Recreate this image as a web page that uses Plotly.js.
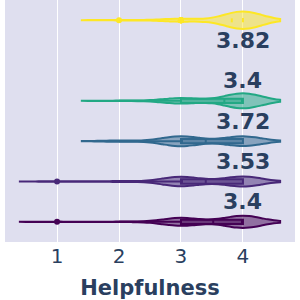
<!DOCTYPE html>
<html><head><meta charset="utf-8">
<script src="https://cdn.plot.ly/plotly-3.0.1.min.js"></script>
<style>html,body{margin:0;padding:0;background:#fff}#chart{width:300px;height:300px}</style>
</head><body><div id="chart"></div>
<script>
// y categories, bottom to top (Group 5 has no data)
const categories = ['Group 1', 'Group 2', 'Group 3', 'Group 4', 'Group 5', 'Group 6'];
// rating levels on the Helpfulness scale
const ratings = [1, 2, 3, 4];
// number of responses per rating level, per group
const countsGroup1 = [1, 1, 19, 29];
const countsGroup2 = [1, 2, 23, 24];
const countsGroup3 = [0, 3, 24, 23];
const countsGroup4 = [0, 1, 13, 36];
const countsGroup6 = [0, 1, 7, 42];
// mean labels shown on the chart
const meanLabels = ['3.4', '3.53', '3.72', '3.4', '3.82'];
const meanLabelX = 4;
const xTicks = [1, 2, 3, 4];

const seriesCats = ['Group 1', 'Group 2', 'Group 3', 'Group 4', 'Group 6'];
const seriesCounts = [countsGroup1, countsGroup2, countsGroup3, countsGroup4, countsGroup6];
const colors = ['#440154', '#482878', '#31688e', '#22a884', '#fde725'];

function expand(counts) {
  const out = [];
  counts.forEach((c, i) => { for (let k = 0; k < c; k++) out.push(ratings[i]); });
  return out;
}

const traces = seriesCats.map((cat, i) => {
  const vals = expand(seriesCounts[i]);
  return {
    type: 'violin',
    orientation: 'h',
    name: cat,
    x: vals,
    y: vals.map(() => cat),
    bandwidth: 0.3,
    scalegroup: 'all',
    scalemode: 'width',
    spanmode: 'soft',
    line: {color: colors[i], width: 2},
    box: {visible: true, width: 0.25},
    meanline: {visible: true},
    points: 'outliers',
    pointpos: 0,
    jitter: 0,
    marker: {color: colors[i], size: 6},
    hoverinfo: 'skip',
    showlegend: false
  };
});

const annotations = meanLabels.map((t, i) => ({
  x: meanLabelX, y: i + 0.5, xref: 'x', yref: 'y',
  text: '<b>' + t + '</b>', showarrow: false,
  xanchor: 'center', yanchor: 'middle',
  font: {family: 'DejaVu Sans', size: 22, color: '#2a3f5f'}
}));

const layout = {
  width: 300, height: 300,
  margin: {l: 5, r: 5, t: 0, b: 58},
  paper_bgcolor: '#ffffff',
  plot_bgcolor: '#dfdfef',
  font: {family: 'DejaVu Sans', color: '#2a3f5f'},
  violinmode: 'overlay',
  violingap: 0.38,
  showlegend: false,
  xaxis: {
    range: [0.16, 4.84],
    tickvals: xTicks,
    ticktext: xTicks.map(String),
    showgrid: true, gridcolor: '#ffffff', gridwidth: 1,
    zeroline: false, showline: false, ticks: '',
    tickfont: {family: 'DejaVu Sans', size: 20, color: '#2a3f5f'},
    title: {text: '<b>Helpfulness</b>', font: {family: 'DejaVu Sans', size: 21, color: '#2a3f5f'}, standoff: 13}
  },
  yaxis: {
    type: 'category',
    categoryorder: 'array',
    categoryarray: categories,
    range: [-0.5, 5.5],
    showticklabels: false, showgrid: false, zeroline: false, ticks: ''
  },
  annotations: annotations
};

Plotly.newPlot('chart', traces, layout, {displayModeBar: false, staticPlot: true});
</script>
</body></html>
